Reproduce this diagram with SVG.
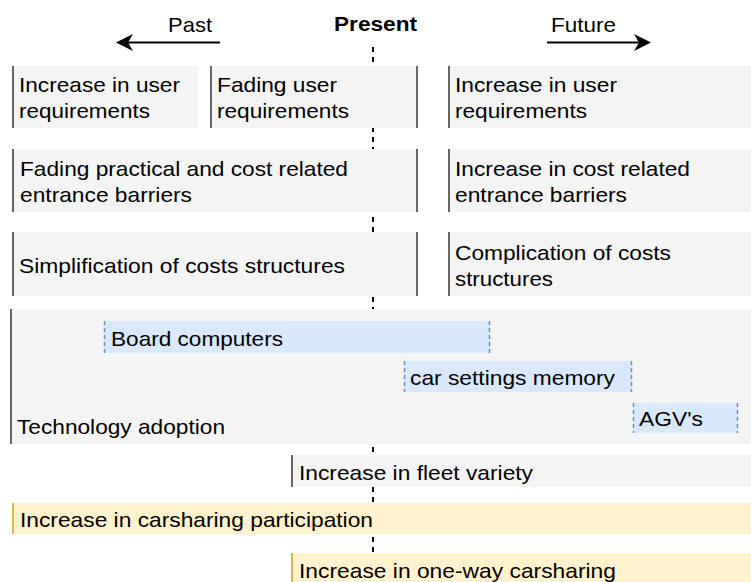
<svg xmlns="http://www.w3.org/2000/svg" width="751" height="582" viewBox="0 0 751 582">
  <defs>
    <style>
      text { font-family: "Liberation Sans", Arial, sans-serif; font-size: 21px; fill: #000; }
      .bold { font-weight: bold; }
      .grey { fill: #f4f4f4; }
      .blue { fill: #dae8fc; }
      .yellow { fill: #fff2cc; }
      .edge { stroke: #666; stroke-width: 2; }
      .edge-y { stroke: #d6b656; stroke-width: 2; }
      .edge-b { stroke: #6c8ebf; stroke-width: 1.5; stroke-dasharray: 4 3; }
      .timeline { stroke: #000; stroke-width: 2; stroke-dasharray: 5 5; fill: none; }
      .arrow { stroke: #000; stroke-width: 2; fill: none; }
    </style>
  </defs>
  <rect width="751" height="582" fill="#fff"/>

  <!-- connectors: present marker and time arrows -->
  <g id="connectors">
    <line class="timeline" x1="373" y1="47" x2="373" y2="582"/>
    <line class="arrow" x1="220" y1="42.5" x2="126" y2="42.5"/>
    <polygon points="116,42.5 133,34 128,42.5 133,51" fill="#000"/>
    <line class="arrow" x1="547" y1="42.5" x2="641" y2="42.5"/>
    <polygon points="651,42.5 634,34 639,42.5 634,51" fill="#000"/>
  </g>

  <!-- headers -->
  <g id="header-past"><text x="168" y="32" textLength="44" lengthAdjust="spacingAndGlyphs">Past</text></g>
  <g id="header-present"><text class="bold" x="334" y="31" textLength="83" lengthAdjust="spacingAndGlyphs">Present</text></g>
  <g id="header-future"><text x="551" y="32" textLength="65" lengthAdjust="spacingAndGlyphs">Future</text></g>

  <!-- row 1 -->
  <g id="past-user-req">
    <rect class="grey" x="12" y="66" width="186" height="62"/>
    <line class="edge" x1="13" y1="66" x2="13" y2="128"/>
    <text x="19" y="92" textLength="161" lengthAdjust="spacingAndGlyphs">Increase in user</text>
    <text x="19" y="118" textLength="131" lengthAdjust="spacingAndGlyphs">requirements</text>
  </g>
  <g id="present-user-req">
    <rect class="grey" x="210" y="66" width="208" height="62"/>
    <line class="edge" x1="211" y1="66" x2="211" y2="128"/>
    <line class="edge" x1="417" y1="66" x2="417" y2="128"/>
    <text x="217" y="92" textLength="120" lengthAdjust="spacingAndGlyphs">Fading user</text>
    <text x="217" y="118" textLength="132" lengthAdjust="spacingAndGlyphs">requirements</text>
  </g>
  <g id="future-user-req">
    <rect class="grey" x="448" y="66" width="303" height="62"/>
    <line class="edge" x1="449" y1="66" x2="449" y2="128"/>
    <text x="455" y="92" textLength="162" lengthAdjust="spacingAndGlyphs">Increase in user</text>
    <text x="455" y="118" textLength="132" lengthAdjust="spacingAndGlyphs">requirements</text>
  </g>

  <!-- row 2 -->
  <g id="past-barriers">
    <rect class="grey" x="12" y="149" width="406" height="63"/>
    <line class="edge" x1="13" y1="149" x2="13" y2="212"/>
    <line class="edge" x1="417" y1="149" x2="417" y2="212"/>
    <text x="20" y="176" textLength="328" lengthAdjust="spacingAndGlyphs">Fading practical and cost related</text>
    <text x="20" y="202" textLength="172" lengthAdjust="spacingAndGlyphs">entrance barriers</text>
  </g>
  <g id="future-barriers">
    <rect class="grey" x="448" y="149" width="303" height="63"/>
    <line class="edge" x1="449" y1="149" x2="449" y2="212"/>
    <text x="455" y="176" textLength="235" lengthAdjust="spacingAndGlyphs">Increase in cost related</text>
    <text x="455" y="202" textLength="172" lengthAdjust="spacingAndGlyphs">entrance barriers</text>
  </g>

  <!-- row 3 -->
  <g id="past-costs">
    <rect class="grey" x="12" y="232" width="406" height="64"/>
    <line class="edge" x1="13" y1="232" x2="13" y2="296"/>
    <line class="edge" x1="417" y1="232" x2="417" y2="296"/>
    <text x="19" y="273" textLength="326" lengthAdjust="spacingAndGlyphs">Simplification of costs structures</text>
  </g>
  <g id="future-costs">
    <rect class="grey" x="448" y="232" width="303" height="64"/>
    <line class="edge" x1="449" y1="232" x2="449" y2="296"/>
    <text x="455" y="260" textLength="216" lengthAdjust="spacingAndGlyphs">Complication of costs</text>
    <text x="455" y="286" textLength="98" lengthAdjust="spacingAndGlyphs">structures</text>
  </g>

  <!-- technology adoption lane -->
  <g id="technology-adoption">
    <rect class="grey" x="10" y="309" width="741" height="135"/>
    <line class="edge" x1="11" y1="309" x2="11" y2="444"/>
    <text x="17" y="434" textLength="208" lengthAdjust="spacingAndGlyphs">Technology adoption</text>
  </g>
  <g id="board-computers">
    <rect class="blue" x="104" y="321" width="386" height="32"/>
    <line class="edge-b" x1="104.5" y1="321" x2="104.5" y2="353"/>
    <line class="edge-b" x1="489.5" y1="321" x2="489.5" y2="353"/>
    <text x="111" y="346" textLength="172" lengthAdjust="spacingAndGlyphs">Board computers</text>
  </g>
  <g id="car-settings-memory">
    <rect class="blue" x="404" y="361" width="228" height="31"/>
    <line class="edge-b" x1="404.5" y1="361" x2="404.5" y2="392"/>
    <line class="edge-b" x1="631.5" y1="361" x2="631.5" y2="392"/>
    <text x="410" y="385" textLength="205" lengthAdjust="spacingAndGlyphs">car settings memory</text>
  </g>
  <g id="agvs">
    <rect class="blue" x="633" y="403" width="105" height="30"/>
    <line class="edge-b" x1="633.5" y1="403" x2="633.5" y2="433"/>
    <line class="edge-b" x1="737.5" y1="403" x2="737.5" y2="433"/>
    <text x="639" y="426" textLength="64" lengthAdjust="spacingAndGlyphs">AGV's</text>
  </g>

  <!-- fleet and carsharing lanes -->
  <g id="fleet-variety">
    <rect class="grey" x="291" y="455" width="460" height="32"/>
    <line class="edge" x1="292" y1="455" x2="292" y2="487"/>
    <text x="299" y="480" textLength="234" lengthAdjust="spacingAndGlyphs">Increase in fleet variety</text>
  </g>
  <g id="carsharing-participation">
    <rect class="yellow" x="12" y="503" width="739" height="31"/>
    <line class="edge-y" x1="13" y1="503" x2="13" y2="534"/>
    <text x="20" y="527" textLength="353" lengthAdjust="spacingAndGlyphs">Increase in carsharing participation</text>
  </g>
  <g id="one-way-carsharing">
    <rect class="yellow" x="291" y="553" width="460" height="29"/>
    <line class="edge-y" x1="292" y1="553" x2="292" y2="582"/>
    <text x="299" y="578" textLength="317" lengthAdjust="spacingAndGlyphs">Increase in one-way carsharing</text>
  </g>
</svg>
